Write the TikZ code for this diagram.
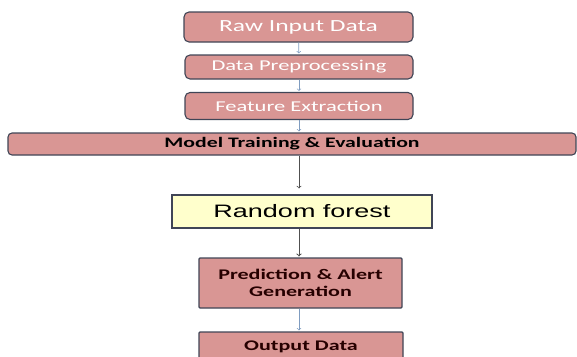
\documentclass[tikz,border=0pt]{standalone}
\usepackage{fontspec}
\setmainfont{Carlito}
\newfontfamily\widefont[FakeStretch=1.5]{Carlito}
\newfontfamily\widearial[FakeStretch=1.5]{Liberation Sans}
\definecolor{boxpink}{HTML}{D99694}
\definecolor{boxline}{HTML}{404556}
\definecolor{rfyellow}{HTML}{FFFFCC}
\definecolor{arrowblue}{HTML}{7F9CC0}
\definecolor{arrowgrey}{HTML}{505050}

\begin{document}
\begin{tikzpicture}[x=1pt,y=-1pt,->,draw=arrowblue,line width=0.7pt,shorten >=1pt]
            \tikzstyle{stage}=[rectangle,draw=boxline,line width=1.1pt,fill=boxpink,inner sep=0pt,align=center]
            \tikzstyle{upper stage}=[stage,rounded corners=5pt,text=white,font=\widefont\fontsize{15}{18}\selectfont]
            \tikzstyle{lower stage}=[stage,rounded corners=1pt,text=black!85!red,font=\widefont\bfseries\fontsize{14.7}{17}\selectfont]
            \tikzstyle{model}=[rectangle,draw=boxline,line width=1.1pt,fill=rfyellow,text=black,inner sep=0pt,font=\widearial\fontsize{18}{20}\selectfont]

            \useasboundingbox (0,0) rectangle (577,356);

            % Draw the upper stages
            \node[upper stage, minimum width=229pt, minimum height=30pt, font=\widefont\fontsize{17}{20}\selectfont] (RAW) at (298.5,27) {Raw Input Data};
            \node[upper stage, minimum width=228pt, minimum height=24pt] (PRE) at (299,67) {Data Preprocessing};
            \node[upper stage, minimum width=228pt, minimum height=27pt] (FEAT) at (299,106) {Feature Extraction};

            % The wide training bar
            \node[stage, rounded corners=4pt, minimum width=568pt, minimum height=22pt, text=black, font=\widefont\bfseries\fontsize{14.5}{16}\selectfont] (TRAIN) at (292,144) {Model Training \& Evaluation};

            % The classifier
            \node[model, minimum width=260pt, minimum height=33pt] (RF) at (302,211.5) {Random forest};

            % Draw the lower stages
            \node[lower stage, minimum width=203pt, minimum height=50pt] (PRED) at (300.5,283) {Prediction \& Alert\\Generation};
            \node[lower stage, minimum width=204pt, minimum height=30pt] (OUT) at (301,347) {Output Data};

            % Connect the stages
            \path (RAW) edge (PRE);
            \path (PRE) edge (FEAT);
            \path (FEAT) edge (FEAT.south |- TRAIN.north);
            \path (FEAT.south |- TRAIN.south) edge[draw=arrowgrey, line width=0.8pt, shorten >=6pt] (FEAT.south |- RF.north);
            \path (FEAT.south |- RF.south) edge[draw=arrowgrey, line width=1pt] (FEAT.south |- PRED.north);
            \path (FEAT.south |- PRED.south) edge (FEAT.south |- OUT.north);
        \end{tikzpicture}
\end{document}
